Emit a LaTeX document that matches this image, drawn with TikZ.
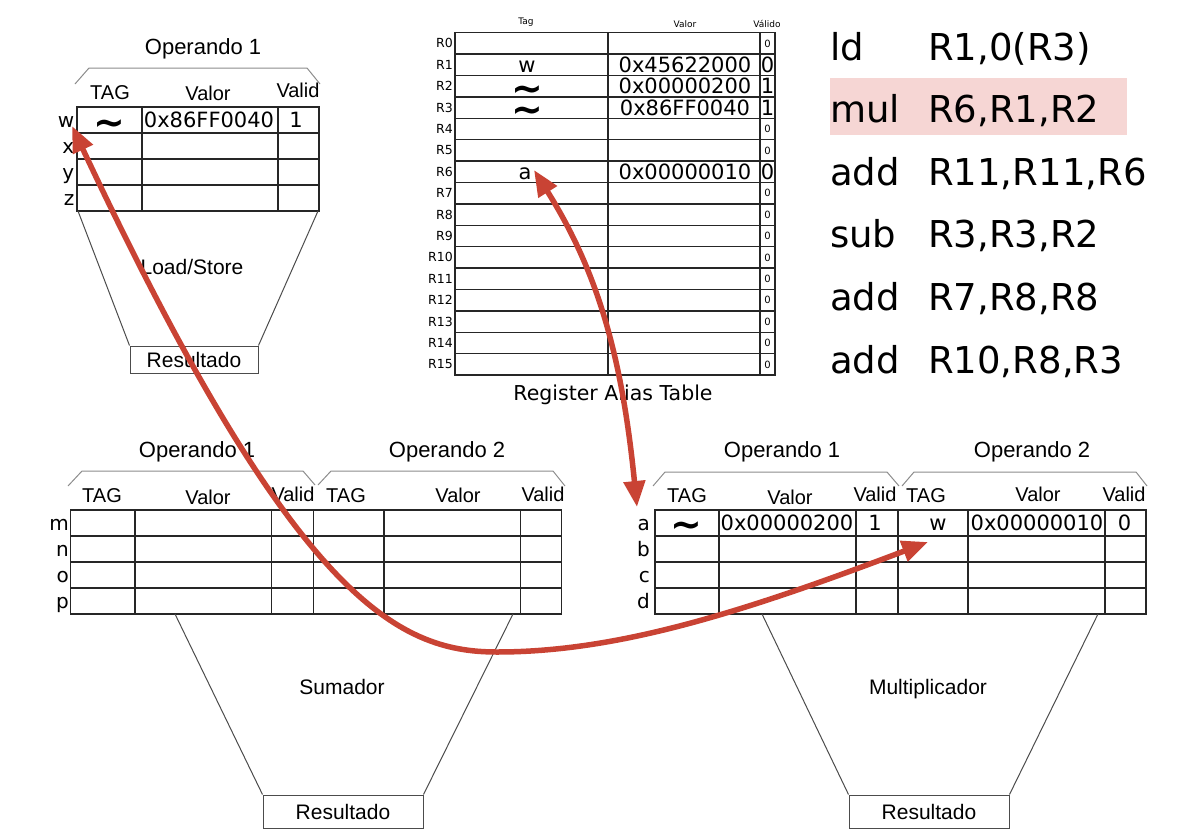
\documentclass[tikz,border=0pt]{standalone}
\usepackage{fontspec}
\setmainfont{Liberation Sans}
\newfontfamily\dejavu{DejaVu Sans}
\usepackage{tikz}
\usetikzlibrary{arrows.meta}

\definecolor{arrowred}{RGB}{201,67,52}
\definecolor{hilite}{RGB}{246,214,212}

\newcommand{\fsz}[1]{\fontsize{#1}{#1}\selectfont}
\newcommand{\tld}{\textasciitilde}

\begin{document}
\begin{tikzpicture}[x=1pt,y=-1pt,
  optitle/.style={inner sep=0pt,font=\fsz{22},text height=15.8pt,text depth=0pt},
  colhead/.style={inner sep=0pt,font=\fsz{20},text height=14.3pt,text depth=0pt},
  unitname/.style={inner sep=0pt,font=\fsz{21},text height=15pt,text depth=0pt},
  resbox/.style={unitname,draw=black!70,line width=1pt},
  regval/.style={inner sep=0pt,font=\dejavu\fsz{21},text height=15.3pt,text depth=0pt},
  rowname/.style={inner sep=0pt,font=\dejavu\fsz{20},text height=14.6pt,text depth=0pt,anchor=east},
  tildemark/.style={inner sep=0pt,font=\dejavu\bfseries\fsz{38},text height=15pt,text depth=0pt,anchor=base},
  regname/.style={inner sep=0pt,font=\dejavu\fsz{12.5},text height=9.1pt,text depth=0pt,anchor=east},
  validbit/.style={inner sep=0pt,font=\dejavu\fsz{10},text height=7.3pt,text depth=0pt},
  ratthead/.style={inner sep=0pt,font=\dejavu\fsz{9}},
  instr/.style={inner sep=0pt,font=\dejavu\fsz{37},anchor=base west},
  cellline/.style={draw=black!85,line width=1.3pt},
  funnel/.style={draw=black!70,line width=1pt},
  bracket/.style={draw=black!45,line width=1pt},
  redarrow/.style={draw=arrowred,line width=5.5pt,{Triangle[length=26pt,width=21pt]}-{Triangle[length=26pt,width=21pt]}}]

\useasboundingbox (0,0) rectangle (1177,835);

% instruction window
\fill[hilite] (830,78) rectangle (1127,135);
\foreach \m/\o [count=\i from 0] in {ld/{R1,0(R3)},mul/{R6,R1,R2},add/{R11,R11,R6},sub/{R3,R3,R2},add/{R7,R8,R8},add/{R10,R8,R3}}{
  \node[instr] (mn\i) at (830,{60+62.6*\i}) {\m};
  \node[instr] (ar\i) at (928,{60+62.6*\i}) {\o};
}

% Load/Store
\node[optitle] (ls-op1) at (203,47) {Operando 1};
\draw[bracket] (75,84) -- (89,68) -- (307,68) -- (320,84);
\node[colhead] (ls-tag) at (110,92) {TAG};
\node[colhead] (ls-val) at (208,93) {Valor};
\node[colhead] (ls-ok) at (298,90) {Valid};
\draw[cellline] (77,107) rectangle (319,211);
\foreach \y in {133,159,185} \draw[cellline] (77,\y) -- (319,\y);
\foreach \x in {142,278} \draw[cellline] (\x,107) -- (\x,211);
\foreach \l [count=\i from 0] in {w,x,y,z} \node[rowname] (ls-\l) at (74.5,{120+26*\i}) {\l};
\node[tildemark] (ls-w1) at (109,135) {\tld};
\node[regval] (ls-w2) at (209,120) {0x86FF0040};
\node[regval] (ls-w3) at (296,120) {1};
\node[resbox,minimum width=128pt,minimum height=27pt] (ls-res) at (194,359.5) {Resultado};
\draw[funnel] (78,211) -- (ls-res.north west) (318,211) -- (ls-res.north east);
\node[unitname] (ls-name) at (192,267) {Load/Store};

% Register Alias Table
\node[ratthead] (rat-tag) at (526,22) {Tag};
\node[ratthead] (rat-val) at (685,24) {Valor};
\node[ratthead] (rat-ok) at (767,24) {Válido};
\draw[cellline] (455,32.7) rectangle (775,375);
\foreach \i in {1,...,15} \draw[cellline] (455,{32.7+21.4*\i}) -- (775,{32.7+21.4*\i});
\foreach \x in {608,760} \draw[cellline] (\x,32.7) -- (\x,375);
\foreach \i in {0,...,15} \node[regname] (r\i) at (453,{43.4+21.4*\i}) {R\i};
\foreach \i in {0,4,5,7,8,9,10,11,12,13,14,15} \node[validbit] (v\i) at (767.5,{43.4+21.4*\i}) {0};
\node[regval] (r1-tag) at (527,64.8) {w};
\node[regval] (r1-val) at (685,64.8) {0x45622000};
\node[regval] (r1-ok) at (767.5,64.8) {0};
\node[tildemark] (r2-tag) at (527,101) {\tld};
\node[regval] (r2-val) at (685,86.2) {0x00000200};
\node[regval] (r2-ok) at (767.5,86.2) {1};
\node[tildemark] (r3-tag) at (527,122.4) {\tld};
\node[regval] (r3-val) at (685,107.6) {0x86FF0040};
\node[regval] (r3-ok) at (767.5,107.6) {1};
\node[regval] (r6-tag) at (525,171.8) {a};
\node[regval] (r6-val) at (685,171.8) {0x00000010};
\node[regval] (r6-ok) at (767.5,171.8) {0};
\node[unitname,font=\dejavu\fsz{20.5}] (rat-name) at (613,393) {Register Alias Table};

% Sumador
\node[optitle] (sm-op1) at (197,450) {Operando 1};
\node[optitle] (sm-op2) at (447,450) {Operando 2};
\draw[bracket] (68,486) -- (82,471) -- (303,471) -- (315,485);
\draw[bracket] (318,485) -- (331,471) -- (553,471) -- (565,486);
\node[colhead] (sm-tag1) at (102,495) {TAG};
\node[colhead] (sm-val1) at (208,497) {Valor};
\node[colhead] (sm-ok1) at (293,494) {Valid};
\node[colhead] (sm-tag2) at (346,495) {TAG};
\node[colhead] (sm-val2) at (458,495) {Valor};
\node[colhead] (sm-ok2) at (543,494) {Valid};
\draw[cellline] (70.5,510) rectangle (561.5,614);
\foreach \y in {536,562,588} \draw[cellline] (70.5,\y) -- (561.5,\y);
\foreach \x in {135,271.5,313.5,384,520.5} \draw[cellline] (\x,510) -- (\x,614);
\foreach \l [count=\i from 0] in {m,n,o,p} \node[rowname] (sm-\l) at (69,{523+26*\i}) {\l};
\node[resbox,minimum width=160pt,minimum height=33pt] (sm-res) at (343,811.5) {Resultado};
\draw[funnel] (175,614) -- (sm-res.north west) (513,614) -- (sm-res.north east);
\node[unitname] (sm-name) at (342,687) {Sumador};

% Multiplicador
\node[optitle] (mu-op1) at (782,450) {Operando 1};
\node[optitle] (mu-op2) at (1032,450) {Operando 2};
\draw[bracket] (653,486) -- (665,472) -- (887,472) -- (899,486);
\draw[bracket] (902,486) -- (914,472) -- (1136,472) -- (1147,486);
\node[colhead] (mu-tag1) at (687,495) {TAG};
\node[colhead] (mu-val1) at (790,497) {Valor};
\node[colhead] (mu-ok1) at (875,494) {Valid};
\node[colhead] (mu-tag2) at (926,495) {TAG};
\node[colhead] (mu-val2) at (1038,494) {Valor};
\node[colhead] (mu-ok2) at (1124,494) {Valid};
\draw[cellline] (655,510) rectangle (1146,614);
\foreach \y in {536,562,588} \draw[cellline] (655,\y) -- (1146,\y);
\foreach \x in {719,856,898,968,1105} \draw[cellline] (\x,510) -- (\x,614);
\foreach \l [count=\i from 0] in {a,b,c,d} \node[rowname] (mu-\l) at (650,{523+26*\i}) {\l};
\node[tildemark] (mu-a1) at (686,537) {\tld};
\node[regval] (mu-a2) at (787,523) {0x00000200};
\node[regval] (mu-a3) at (875,523) {1};
\node[regval] (mu-a4) at (938,523) {w};
\node[regval] (mu-a5) at (1037,523) {0x00000010};
\node[regval] (mu-a6) at (1124.5,523) {0};
\node[resbox,minimum width=160pt,minimum height=33pt] (mu-res) at (929,811.5) {Resultado};
\draw[funnel] (762,614) -- (mu-res.north west) (1098,614) -- (mu-res.north east);
\node[unitname] (mu-name) at (928,687) {Multiplicador};

% renaming arrows
\coordinate (tip-ls) at (72,126);
\coordinate (low) at (497,652);
\coordinate (tip-mu) at (928,542);
\coordinate (tip-rat) at (534,170);
\coordinate (tip-rs) at (637,507);
\draw[redarrow] (tip-ls) .. controls +(222,473) and +(-100,0) .. (low) .. controls +(120,0) and +(-187,71) .. (tip-mu);
\draw[redarrow] (tip-rat) .. controls +(64,102) and +(-15,-150) .. (tip-rs);
\end{tikzpicture}
\end{document}
